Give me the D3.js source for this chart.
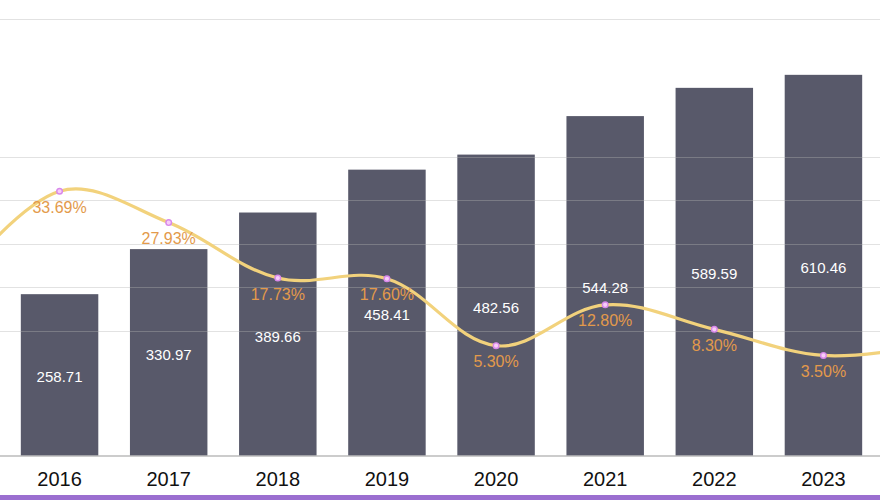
<!DOCTYPE html>
<html>
<head>
<meta charset="utf-8">
<script src="https://cdn.jsdelivr.net/npm/d3@7/dist/d3.min.js"></script>
<style>
  html, body { margin: 0; padding: 0; background: #ffffff; }
  svg { display: block; font-family: "Liberation Sans", Arial, Helvetica, sans-serif; }
</style>
</head>
<body>
<svg id="chart" width="880" height="500"></svg>
<script>
// ---- data ----
const years = ["2016", "2017", "2018", "2019", "2020", "2021", "2022", "2023"];
const barValues = [258.71, 330.97, 389.66, 458.41, 482.56, 544.28, 589.59, 610.46];
const rateValues = [33.69, 27.93, 17.73, 17.60, 5.30, 12.80, 8.30, 3.50];
// the growth line runs past the cropped edges; neighbouring values estimated from the curve
const lineYears = ["2015", "2016", "2017", "2018", "2019", "2020", "2021", "2022", "2023", "2024"];
const lineValues = [15.5, 33.69, 27.93, 17.73, 17.60, 5.30, 12.80, 8.30, 3.50, 5.5];
const barGridTicks = [700];
const rateGridTicks = [8, 16, 24, 32, 40];

// ---- layout ----
const W = 880, H = 500;
const baseY = 455.5, topY = 19;
const svg = d3.select("#chart");
svg.append("rect").attr("width", W).attr("height", H).attr("fill", "#ffffff");

const x = d3.scaleBand().domain(years).range([5, 878]).paddingInner(0.29).paddingOuter(0.145);
const step = x.step();
const c0 = x(years[0]) + x.bandwidth() / 2;
const cN = x(years[years.length - 1]) + x.bandwidth() / 2;
const xLine = d3.scalePoint().domain(lineYears).range([c0 - step, cN + step]);

const yBar = d3.scaleLinear().domain([0, 700]).range([baseY, topY]);
const yRate = d3.scaleLinear().domain([0, 40]).range([374.5, 156.9]);

// ---- bars ----
const barData = years.map((y, i) => ({ year: y, value: barValues[i] }));
svg.append("g").selectAll("rect").data(barData).join("rect")
  .attr("x", d => x(d.year))
  .attr("y", d => yBar(d.value))
  .attr("width", x.bandwidth())
  .attr("height", d => baseY - yBar(d.value))
  .attr("fill", "#58596a");

// ---- grid lines (drawn over bars) ----
const gridYs = barGridTicks.map(v => yBar(v)).concat(rateGridTicks.map(v => yRate(v)));
svg.append("g").selectAll("line").data(gridYs).join("line")
  .attr("x1", 0).attr("x2", W)
  .attr("y1", d => Math.round(d) + 0.5).attr("y2", d => Math.round(d) + 0.5)
  .attr("stroke", "#b4b4b4").attr("stroke-opacity", 0.38).attr("stroke-width", 1.2);

// ---- x axis ----
const xAxis = d3.axisBottom(x).tickSize(0).tickPadding(0);
const gx = svg.append("g").attr("transform", `translate(0,${baseY})`).call(xAxis);
gx.select(".domain").remove();
svg.append("line").attr("x1", 0).attr("x2", W).attr("y1", baseY + 0.5).attr("y2", baseY + 0.5)
  .attr("stroke", "#9a9a9a").attr("stroke-width", 1.2);
gx.selectAll(".tick text")
  .attr("y", 30.2).attr("dy", null)
  .attr("font-size", 20).attr("fill", "#111111")
  .attr("font-family", "'Liberation Sans', Arial, sans-serif");

// ---- bar value labels ----
svg.append("g").selectAll("text").data(barData).join("text")
  .attr("x", d => x(d.year) + x.bandwidth() / 2)
  .attr("y", d => (yBar(d.value) + baseY) / 2 + 7.6)
  .attr("text-anchor", "middle")
  .attr("font-size", 15)
  .attr("fill", "#ffffff")
  .text(d => d.value.toFixed(2));

// ---- smoothed line ----
function SmoothCurve(context) { this._context = context; }
SmoothCurve.prototype = {
  areaStart() { this._line = 0; },
  areaEnd() { this._line = NaN; },
  lineStart() { this._pts = []; },
  point(px, py) { this._pts.push([+px, +py]); },
  lineEnd() {
    const p = this._pts, ctx = this._context, s = 0.36;
    if (!p.length) return;
    ctx.moveTo(p[0][0], p[0][1]);
    let cpx = p[0][0], cpy = p[0][1];
    for (let k = 1; k < p.length; k++) {
      const [px, py] = p[k], [qx, qy] = p[k - 1];
      const nx = p[k + 1];
      let ncx, ncy, vx = 0, vy = 0, r = 0.5;
      if (!nx) { ncx = px; ncy = py; }
      else {
        vx = nx[0] - qx; vy = nx[1] - qy;
        const l0 = Math.hypot(px - qx, py - qy), l1 = Math.hypot(nx[0] - px, nx[1] - py);
        r = l1 / (l0 + l1);
        ncx = px - vx * s * (1 - r); ncy = py - vy * s * (1 - r);
      }
      ctx.bezierCurveTo(cpx, cpy, ncx, ncy, px, py);
      cpx = px + vx * s * r; cpy = py + vy * s * r;
    }
  }
};
const smoothCurve = ctx => new SmoothCurve(ctx);

const lineData = lineYears.map((y, i) => ({ year: y, value: lineValues[i] }));
const line = d3.line().x(d => xLine(d.year)).y(d => yRate(d.value)).curve(smoothCurve);
svg.append("path").datum(lineData)
  .attr("d", line)
  .attr("fill", "none")
  .attr("stroke", "#f2d27c")
  .attr("stroke-width", 3.2)
  .attr("stroke-linecap", "round");

const rateData = years.map((y, i) => ({ year: y, value: rateValues[i] }));
svg.append("g").selectAll("circle").data(rateData).join("circle")
  .attr("cx", d => xLine(d.year))
  .attr("cy", d => yRate(d.value))
  .attr("r", 2.8)
  .attr("fill", "#f7cdf8")
  .attr("stroke", "#d888ea")
  .attr("stroke-width", 1.4);

svg.append("g").selectAll("text").data(rateData).join("text")
  .attr("x", d => xLine(d.year))
  .attr("y", d => yRate(d.value) + 21.5)
  .attr("text-anchor", "middle")
  .attr("font-size", 16)
  .attr("fill", "#e39a4b")
  .text(d => d.value.toFixed(2) + "%");

// ---- bottom accent strip ----
svg.append("rect").attr("x", 0).attr("y", 495).attr("width", W).attr("height", 5).attr("fill", "#9b6fd0");
</script>
</body>
</html>
